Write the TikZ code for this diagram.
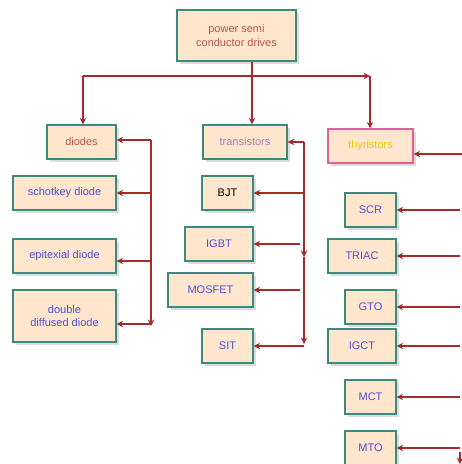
\documentclass[tikz,border=0pt]{standalone}
\usepackage{fontspec}
\setmainfont{Liberation Sans}
\usetikzlibrary{arrows.meta,shadows}
\definecolor{boxfill}{HTML}{FFE6CC}
\definecolor{boxline}{HTML}{3A8A80}
\definecolor{pinkline}{HTML}{E0609A}
\definecolor{arrowc}{HTML}{A52A2A}
\definecolor{redtxt}{HTML}{B85450}
\definecolor{lavtxt}{HTML}{A680B8}
\definecolor{yeltxt}{HTML}{E3CC00}
\definecolor{bluetxt}{HTML}{4F4FDB}
\tikzset{
  box/.style={draw=boxline, fill=boxfill, line width=1.2pt, inner sep=1pt,
    align=center, font=\fontsize{11}{13.5}\selectfont, text=bluetxt,
    drop shadow={shadow xshift=2.5pt, shadow yshift=-2.5pt, opacity=0.3, fill=black!45}},
  arr/.style={draw=arrowc, line width=1.3pt, -{Stealth[length=6.5pt,width=6.5pt]}},
}
\begin{document}
\begin{tikzpicture}[x=1pt,y=-1pt]
\clip (0,0) rectangle (462,464);
\fill[white] (0,0) rectangle (462,464);
% top level
\node[box, minimum width=119pt, minimum height=51pt, text=redtxt] (top) at (236.5,35.5) {power semi\\conductor drives};
\node[box, minimum width=69pt, minimum height=34pt, text=redtxt] (diodes) at (81.5,142) {diodes};
\node[box, minimum width=84pt, minimum height=34pt, text=lavtxt] (trans) at (245,142) {transistors};
\node[box, draw=pinkline, minimum width=85pt, minimum height=34pt, text=yeltxt] (thyr) at (370.5,146) {thyristors};
% diodes
\node[box, minimum width=103pt, minimum height=34pt] (schot) at (64.5,193) {schotkey diode};
\node[box, minimum width=103pt, minimum height=34pt] (epi) at (64.5,256) {epitexial diode};
\node[box, minimum width=103pt, minimum height=52pt] (ddd) at (64.5,316) {double\\diffused diode};
% transistors
\node[box, minimum width=51pt, minimum height=34pt, text=black] (bjt) at (227.5,193) {BJT};
\node[box, minimum width=68pt, minimum height=34pt] (igbt) at (219,244) {IGBT};
\node[box, minimum width=85pt, minimum height=34pt] (mosfet) at (210.5,290) {MOSFET};
\node[box, minimum width=51pt, minimum height=34pt] (sit) at (227.5,346) {SIT};
% thyristors
\node[box, minimum width=51pt, minimum height=34pt] (scr) at (370.5,210) {SCR};
\node[box, minimum width=68pt, minimum height=34pt] (triac) at (362,256) {TRIAC};
\node[box, minimum width=51pt, minimum height=34pt] (gto) at (370.5,307) {GTO};
\node[box, minimum width=68pt, minimum height=34pt] (igct) at (362,346) {IGCT};
\node[box, minimum width=51pt, minimum height=34pt] (mct) at (370.5,397) {MCT};
\node[box, minimum width=51pt, minimum height=34pt] (mto) at (370.5,448) {MTO};
% top connectors
\coordinate (jl) at (83,76);
\coordinate (jr) at (370,76);
\draw[arr] (top.south -| 252,0) -- (trans.north -| 252,0);
\draw[arr] (jl) -- (jr);
\draw[arr] (jl) -- (diodes.north -| jl);
\draw[arr] (jr) -- (thyr.north -| jr);
% diode branch
\coordinate (dt) at (151,140);
\coordinate (db) at (151,326);
\draw[arr] (dt) -- (diodes.east |- dt);
\draw[arr] (dt) -- (db);
\draw[arr] (151,193) -- (schot.east |- 0,193);
\draw[arr] (151,261) -- (epi.east |- 0,261);
\draw[arr] (151,324) -- (ddd.east |- 0,324);
% transistor branch
\coordinate (tt) at (304,142);
\coordinate (tm) at (304,257);
\coordinate (tb) at (304,344);
\draw[arr] (tt) -- (trans.east |- tt);
\draw[arr] (tt) -- (tm);
\draw[arr] (tm) -- (tb);
\draw[arr] (304,193) -- (bjt.east |- 0,193);
\draw[arr] (300,244) -- (igbt.east |- 0,244);
\draw[arr] (300,290) -- (mosfet.east |- 0,290);
\draw[arr] (304,346) -- (sit.east |- 0,346);
% thyristor branch
\draw[arr] (462,154) -- (thyr.east |- 0,154);
\draw[arr] (460,210) -- (scr.east |- 0,210);
\draw[arr] (460,256) -- (triac.east |- 0,256);
\draw[arr] (460,307) -- (gto.east |- 0,307);
\draw[arr] (460,346) -- (igct.east |- 0,346);
\draw[arr] (460,397) -- (mct.east |- 0,397);
\draw[arr] (460,448) -- (mto.east |- 0,448);
\draw[arr] (460,452) -- (460,464);
\end{tikzpicture}
\end{document}
